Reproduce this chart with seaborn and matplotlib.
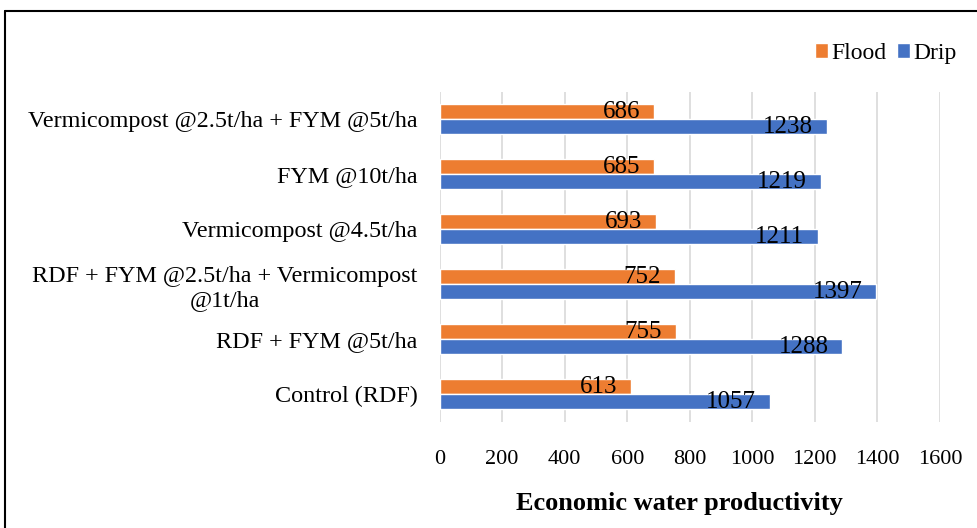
import pandas as pd
import matplotlib.pyplot as plt
import seaborn as sns
from matplotlib.lines import Line2D

# Datos del gráfico (de arriba hacia abajo)
treatments = [
    "Vermicompost @2.5t/ha + FYM @5t/ha",
    "FYM @10t/ha",
    "Vermicompost @4.5t/ha",
    "RDF + FYM @2.5t/ha + Vermicompost\n@1t/ha",
    "RDF + FYM @5t/ha",
    "Control (RDF)",
]
flood = [686, 685, 693, 752, 755, 613]
drip = [1238, 1219, 1211, 1397, 1288, 1057]
methods = ["Flood", "Drip"]
x_ticks = [0, 200, 400, 600, 800, 1000, 1200, 1400, 1600]

df = pd.DataFrame({
    "treatment": treatments * 2,
    "method": ["Flood"] * len(treatments) + ["Drip"] * len(treatments),
    "value": flood + drip,
})

sns.set_style("white")
plt.rcParams["font.family"] = ["Liberation Serif", "DejaVu Serif"]
plt.rcParams["text.color"] = "black"
plt.rcParams["xtick.color"] = "black"
plt.rcParams["ytick.color"] = "black"
plt.rcParams["axes.labelcolor"] = "black"

fig = plt.figure(figsize=(9.77, 5.28), dpi=100)
ax = fig.add_axes([0.450, 0.201, 0.512, 0.625])

sns.barplot(
    data=df, y="treatment", x="value", hue="method", order=treatments,
    hue_order=methods, palette=["#ED7D31", "#4472C4"], orient="h",
    width=0.55, saturation=1, ax=ax, legend=True,
)

# Etiquetas de datos dentro del extremo de la barra
for cont in ax.containers:
    labels = ax.bar_label(cont, padding=-10, fontsize=18, color="black")
    for t in labels:
        t.set_ha("right")
        t.set_va("center")

ax.set_xlim(0, 1600)
ax.set_ylim(len(treatments) - 0.5, -0.5)
ax.set_xticks(x_ticks)
ax.grid(axis="x", color="#D9D9D9", linewidth=1.2)
ax.set_axisbelow(True)
for s in ax.spines.values():
    s.set_visible(False)
ax.tick_params(axis="both", length=0)
ax.tick_params(axis="x", labelsize=16, pad=20)
ax.tick_params(axis="y", labelsize=17.4, pad=16)
for lab in ax.get_yticklabels():
    lab.set_multialignment("center")
ax.set_ylabel("")
ax.set_xlabel("Economic water productivity", fontsize=19, fontweight="bold", labelpad=17)
ax.xaxis.label.set_x(0.48)

ax.legend(
    loc="center right", bbox_to_anchor=(0.989, 0.899), bbox_transform=fig.transFigure,
    frameon=False, ncol=2, fontsize=17, handlelength=0.55, handleheight=0.55,
    handletextpad=0.15, columnspacing=0.45, borderaxespad=0,
)

# Borde del gráfico
fig.add_artist(Line2D([5 / 977, 5 / 977], [0, 1 - 11 / 528], transform=fig.transFigure, color="black", lw=1.5))
fig.add_artist(Line2D([5 / 977, 1], [1 - 11 / 528, 1 - 11 / 528], transform=fig.transFigure, color="black", lw=1.5))

plt.savefig("out.png", dpi=100)
